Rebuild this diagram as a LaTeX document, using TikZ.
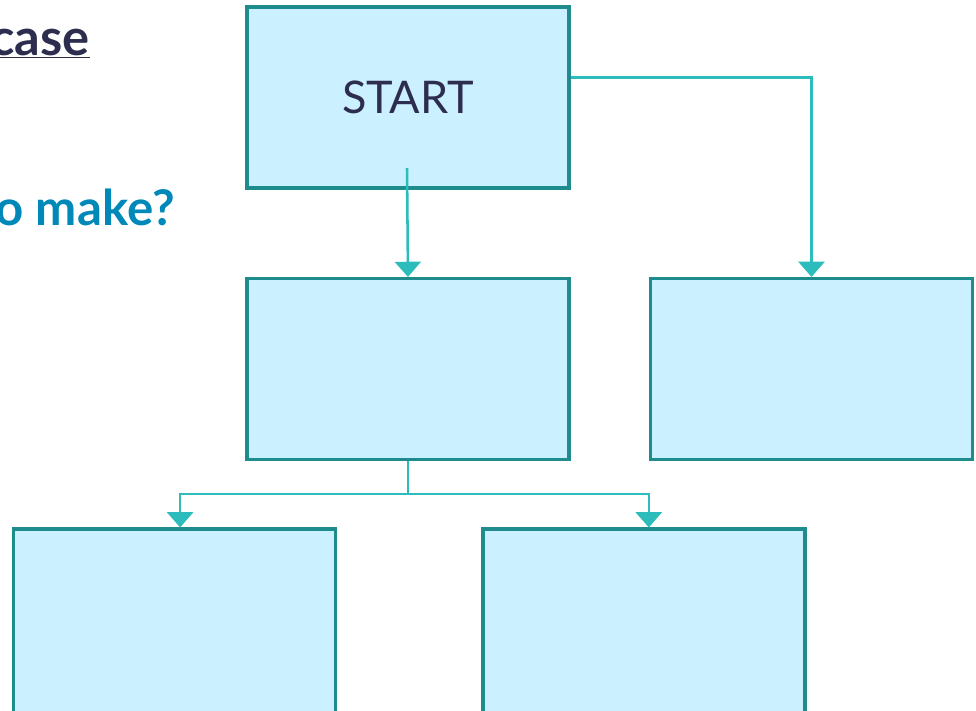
\documentclass[tikz,border=0pt]{standalone}
\usepackage{fontspec}
\setmainfont{Lato}
\usetikzlibrary{arrows.meta,calc}
\definecolor{boxfill}{HTML}{CBF0FF}
\definecolor{boxline}{HTML}{1E8C8C}
\definecolor{linkcol}{HTML}{2DBCBC}
\definecolor{navy}{HTML}{2D2D4F}
\definecolor{titleblue}{HTML}{0088B8}

\begin{document}
\begin{tikzpicture}[x=0.025cm,y=-0.025cm,
    box/.style={draw=boxline,fill=boxfill,line width=2.2pt,minimum width=8.05cm,minimum height=4.525cm,inner sep=0pt},
    lowbox/.style={box,minimum height=5.025cm},
    link/.style={draw=linkcol,line width=1.8pt,-{Triangle[width=0.65cm,length=0.38cm]}}]
    \useasboundingbox (0,0) rectangle (976,711);
    \clip (0,0) rectangle (976,711);
    % slide text cut off at the left
    \node[anchor=base east,text=navy,inner sep=0pt] (casetxt) at (90,55){\fontsize{36}{40}\selectfont\bfseries\underline{case}};
    \node[anchor=base east,text=titleblue,inner sep=0pt] (maketxt) at (175,225){\fontsize{35}{40}\selectfont\bfseries o make?};
    % boxes
    \node[box,text=navy] (start) at (408,97.5){\fontsize{32}{38}\selectfont START};
    \node[box] (mid) at (408,369){};
    \node[box] (right) at (811.5,369){};
    \node[lowbox] (bl) at (174.5,629.5){};
    \node[lowbox] (br) at (644,629.5){};
    % connectors
    \coordinate (stem) at (407,168);
    \draw[link] (stem) -- (mid.north);
    \draw[link] ([yshift=0.5cm]start.east) -| (right.north);
    \draw[linkcol,line width=1.8pt] (mid.south) -- ++(0,33) coordinate (split);
    \draw[link] (split) -| ([xshift=0.14cm]bl.north);
    \draw[link] (split) -| ([xshift=0.12cm]br.north);
\end{tikzpicture}
\end{document}
